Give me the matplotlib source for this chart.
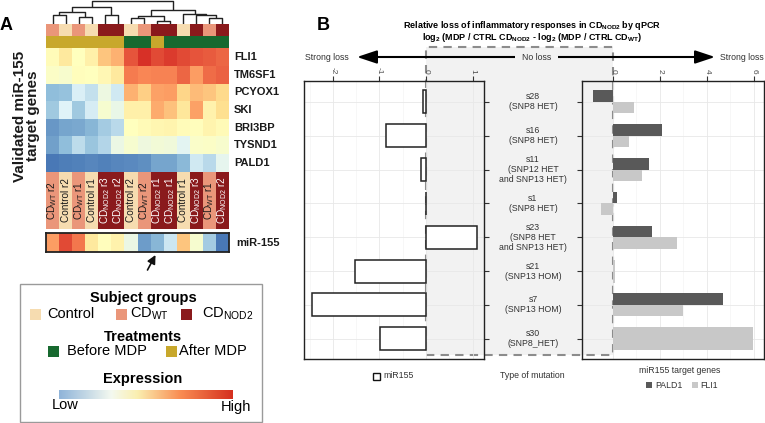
import matplotlib
matplotlib.use('Agg')
import matplotlib.pyplot as plt
import numpy as np
from matplotlib.colors import LinearSegmentedColormap, ListedColormap
from matplotlib.patches import Rectangle, FancyArrowPatch
from matplotlib.transforms import blended_transform_factory

plt.rcParams['font.family'] = ['Liberation Sans', 'DejaVu Sans']
plt.rcParams['mathtext.fontset'] = 'custom'
plt.rcParams['mathtext.rm'] = 'Liberation Sans'
plt.rcParams['mathtext.bf'] = 'Liberation Sans:bold'
plt.rcParams['mathtext.it'] = 'Liberation Sans:italic'
plt.rcParams['mathtext.sf'] = 'Liberation Sans'

# ---------------- Panel A data ----------------
genes = ['FLI1', 'TM6SF1', 'PCYOX1', 'SKI', 'BRI3BP', 'TYSND1', 'PALD1']
col_labels = [r'CD$_{\mathrm{WT}}$ r2', 'Control r2', r'CD$_{\mathrm{WT}}$ r1', 'Control r1',
              r'CD$_{\mathrm{NOD2}}$ r3', r'CD$_{\mathrm{NOD2}}$ r2', 'Control r2', r'CD$_{\mathrm{WT}}$ r2',
              r'CD$_{\mathrm{NOD2}}$ r1', r'CD$_{\mathrm{NOD2}}$ r1', 'Control r1', r'CD$_{\mathrm{NOD2}}$ r3',
              r'CD$_{\mathrm{WT}}$ r1', r'CD$_{\mathrm{NOD2}}$ r2']
groups = ['WT', 'Control', 'WT', 'Control', 'NOD2', 'NOD2', 'Control', 'WT',
          'NOD2', 'NOD2', 'Control', 'NOD2', 'WT', 'NOD2']
treatments = ['After', 'After', 'After', 'After', 'After', 'After', 'Before', 'Before',
              'After', 'Before', 'Before', 'Before', 'Before', 'Before']
expr_FLI1 = [0.52, 0.62, 0.50, 0.58, 0.72, 0.76, 0.93, 1.00, 0.95, 0.98, 0.95, 0.93, 0.92, 0.90]
expr_TM6SF1 = [0.48, 0.46, 0.51, 0.50, 0.54, 0.62, 0.86, 0.84, 0.85, 0.85, 0.90, 0.80, 0.89, 0.91]
expr_PCYOX1 = [0.17, 0.18, 0.32, 0.27, 0.40, 0.30, 0.76, 0.70, 0.79, 0.80, 0.69, 0.74, 0.72, 0.68]
expr_SKI = [0.20, 0.33, 0.20, 0.31, 0.45, 0.38, 0.58, 0.58, 0.77, 0.73, 0.63, 0.79, 0.57, 0.67]
expr_BRI3BP = [0.08, 0.11, 0.12, 0.15, 0.21, 0.25, 0.50, 0.53, 0.55, 0.56, 0.52, 0.51, 0.56, 0.53]
expr_TYSND1 = [0.10, 0.17, 0.26, 0.19, 0.24, 0.39, 0.45, 0.41, 0.43, 0.42, 0.35, 0.47, 0.48, 0.46]
expr_PALD1 = [0.01, 0.02, 0.03, 0.04, 0.03, 0.04, 0.05, 0.06, 0.11, 0.11, 0.16, 0.30, 0.25, 0.36]
mir155_expr = [0.80, 0.95, 0.87, 0.62, 0.51, 0.57, 0.39, 0.09, 0.15, 0.29, 0.72, 0.45, 0.21, 0.01]
# dendrogram merges: (cluster a, cluster b, height); new cluster ids start at 14
merges = [(0, 1, 9.0), (2, 3, 7.3), (14, 15, 12.3), (4, 5, 9.0), (16, 17, 16.7),
          (6, 7, 5.7), (8, 9, 3.3), (19, 20, 8.0), (12, 13, 5.7), (11, 22, 9.0),
          (10, 23, 9.7), (21, 24, 14.0), (18, 25, 23.0)]

# ---------------- Panel B data ----------------
samples = ['s28', 's16', 's11', 's1', 's23', 's21', 's7', 's30']
mutations = ['(SNP8 HET)', '(SNP8 HET)', '(SNP12 HET\nand SNP13 HET)', '(SNP8 HET)',
             '(SNP8 HET\nand SNP13 HET)', '(SNP13 HOM)', '(SNP13 HOM)', '(SNP8_HET)']
mir155_loss = [-0.07, -0.85, -0.10, 0.0, 1.09, -1.52, -2.45, -0.98]
pald1_loss = [-0.86, 2.09, 1.55, 0.15, 1.67, np.nan, 4.67, np.nan]
fli1_loss = [0.89, 0.67, 1.25, -0.51, 2.74, 0.10, 2.99, 5.97]

# ---------------- colors ----------------
grp_colors = {'Control': '#f6dcb0', 'WT': '#ea967a', 'NOD2': '#8a1a1c'}
trt_colors = {'Before': '#17692f', 'After': '#c8a82c'}
heat_cmap = LinearSegmentedColormap.from_list('heat', [
    (0.0, '#4575b4'), (0.17, '#91bfdb'), (0.33, '#e0f3f8'), (0.5, '#ffffbf'),
    (0.67, '#fee090'), (0.83, '#fc8d59'), (1.0, '#d73027')])
leg_cmap = LinearSegmentedColormap.from_list('leg', [
    (0.0, '#8fb4d9'), (0.3, '#f4f9f0'), (0.45, '#fbefb0'), (0.7, '#f98c52'), (1.0, '#d5301f')])
pald_color = '#595959'
fli_color = '#c8c8c8'
shade = '#f2f2f2'

W, H = 765, 423
fig = plt.figure(figsize=(W / 100, H / 100), dpi=100)


def rect(x0, y0, x1, y1):
    return [x0 / W, 1 - y1 / H, (x1 - x0) / W, (y1 - y0) / H]


def fx(x):
    return x / W


def fy(y):
    return 1 - y / H


ncol = len(col_labels)

# ---- dendrogram ----
axd = fig.add_axes(rect(46, 0, 229, 24))
axd.set_xlim(0, ncol)
axd.set_ylim(0, 24)
axd.axis('off')
pos = {i: i + 0.5 for i in range(ncol)}
hgt = {i: 0.0 for i in range(ncol)}
for k, (a, b, h) in enumerate(merges):
    nid = ncol + k
    axd.plot([pos[a], pos[a], pos[b], pos[b]], [hgt[a], h, h, hgt[b]],
             color='#222222', lw=1.0, clip_on=False, solid_capstyle='butt')
    pos[nid] = (pos[a] + pos[b]) / 2
    hgt[nid] = h

# ---- annotation rows ----
axa = fig.add_axes(rect(46, 24, 229, 48.3))
ann_cats = ['Control', 'WT', 'NOD2', 'Before', 'After']
ann_cmap = ListedColormap([grp_colors['Control'], grp_colors['WT'], grp_colors['NOD2'],
                           trt_colors['Before'], trt_colors['After']])
ann = np.array([[ann_cats.index(g) for g in groups], [ann_cats.index(t) for t in treatments]])
axa.pcolormesh(np.arange(ncol + 1), np.arange(3), ann, cmap=ann_cmap, vmin=-0.5, vmax=4.5)
axa.set_ylim(2, 0)
axa.axis('off')

# ---- heatmap ----
axh = fig.add_axes(rect(46, 48.3, 229, 171.7))
mat = np.array([expr_FLI1, expr_TM6SF1, expr_PCYOX1, expr_SKI, expr_BRI3BP, expr_TYSND1, expr_PALD1])
axh.pcolormesh(np.arange(ncol + 1), np.arange(len(genes) + 1), mat, cmap=heat_cmap, vmin=0, vmax=1)
axh.set_ylim(len(genes), 0)
axh.axis('off')
tr = blended_transform_factory(fig.transFigure, axh.transData)
for i, g in enumerate(genes):
    axh.text(fx(234), i + 0.5, g, transform=tr, ha='left', va='center',
             fontsize=8, fontweight='bold', color='#1a1a1a')

# ---- column labels ----
axl = fig.add_axes(rect(46, 172, 229, 229))
axl.set_xlim(0, ncol)
axl.set_ylim(0, 1)
axl.axis('off')
for i, (lab, g) in enumerate(zip(col_labels, groups)):
    axl.add_patch(Rectangle((i, 0), 1, 1, facecolor=grp_colors[g], edgecolor='none'))
    axl.text(i + 0.5, 0.5, lab, rotation=90, ha='center', va='center', fontsize=7.2,
             color='white' if g == 'NOD2' else '#1a1a1a')

# ---- miR-155 row ----
axm = fig.add_axes(rect(46, 233.5, 229, 252))
axm.pcolormesh(np.arange(ncol + 1), [0, 1], np.array([mir155_expr]), cmap=heat_cmap, vmin=0, vmax=1)
axm.set_xticks([])
axm.set_yticks([])
for s in axm.spines.values():
    s.set_linewidth(1.3)
    s.set_color('#222222')
fig.text(fx(236), fy(243), 'miR-155', ha='left', va='center', fontsize=8, fontweight='bold', color='#1a1a1a')

fig.add_artist(FancyArrowPatch((fx(147.5), fy(270)), (fx(155.5), fy(255)), transform=fig.transFigure,
                               arrowstyle='-|>,head_length=0.5,head_width=0.25', mutation_scale=10,
                               lw=1.2, color='#111111', shrinkA=0, shrinkB=0))

fig.text(fx(6.5), fy(25), 'A', fontsize=13, fontweight='bold', ha='center', va='center')
fig.text(fx(26.5), fy(116), 'Validated miR-155\ntarget genes', rotation=90, ha='center', va='center',
         fontsize=11, fontweight='bold', linespacing=0.95, color='#1a1a1a')

# ---- legend box A ----
fig.patches.append(Rectangle((fx(20), fy(422)), 242 / W, 138 / H, transform=fig.transFigure,
                             facecolor='none', edgecolor='#9a9a9a', lw=1.0))
fig.text(fx(143), fy(298), 'Subject groups', ha='center', va='center', fontsize=10.5, fontweight='bold')
for (gx, tx, key, lab) in [(30, 47, 'Control', 'Control'), (116, 130, 'WT', r'CD$_{\mathrm{WT}}$'),
                           (181, 202, 'NOD2', r'CD$_{\mathrm{NOD2}}$')]:
    fig.patches.append(Rectangle((fx(gx), fy(319.5)), 11 / W, 11 / H, transform=fig.transFigure,
                                 facecolor=grp_colors[key], edgecolor='none'))
    fig.text(fx(tx), fy(314), lab, ha='left', va='center', fontsize=10.5)
fig.text(fx(143), fy(337), 'Treatments', ha='center', va='center', fontsize=10.5, fontweight='bold')
for (gx, tx, key, lab) in [(48, 67, 'Before', 'Before MDP'), (166, 179, 'After', 'After MDP')]:
    fig.patches.append(Rectangle((fx(gx), fy(356.5)), 11 / W, 11 / H, transform=fig.transFigure,
                                 facecolor=trt_colors[key], edgecolor='none'))
    fig.text(fx(tx), fy(351), lab, ha='left', va='center', fontsize=10.5)
fig.text(fx(143), fy(379), 'Expression', ha='center', va='center', fontsize=10.5, fontweight='bold')
axc = fig.add_axes(rect(59, 390, 232, 399))
axc.imshow(np.linspace(0, 1, 256)[None, :], aspect='auto', cmap=leg_cmap)
axc.axis('off')
fig.text(fx(65), fy(405), 'Low', ha='center', va='center', fontsize=10.5)
fig.text(fx(236), fy(407), 'High', ha='center', va='center', fontsize=10.5)

# ---------------- Panel B ----------------
y = np.arange(len(samples))
# shaded "no loss" region
fig.patches.append(Rectangle((fx(426), fy(355)), (613 - 426) / W, (355 - 47) / H, transform=fig.transFigure,
                             facecolor=shade, edgecolor='#8c8c8c', lw=1.5, ls=(0, (4, 3)), zorder=-1))


def style_axis(ax, xlim, major, minor, side):
    ax.set_facecolor('none')
    ax.set_xlim(*xlim)
    ax.set_ylim(7.6, -0.62)
    ax.xaxis.tick_top()
    ax.set_xticks(major)
    ax.set_xticks(minor, minor=True)
    ax.set_xticklabels([str(v) for v in major], rotation=-90, fontsize=6, color='#4d4d4d')
    ax.tick_params(axis='x', which='major', length=3.5, width=0.8, color='#333333', pad=1.5)
    ax.tick_params(axis='x', which='minor', length=0)
    ax.set_yticks(y)
    ax.set_yticklabels([])
    if side == 'right':
        ax.yaxis.tick_right()
    ax.tick_params(axis='y', length=3.5, width=0.8, color='#333333')
    ax.grid(True, which='major', color='#e8e8e8', lw=0.6, zorder=0)
    ax.grid(True, which='minor', axis='x', color='#f2f2f2', lw=0.4, zorder=0)
    ax.set_axisbelow(True)
    for s in ax.spines.values():
        s.set_linewidth(1.0)
        s.set_color('#222222')


axL = fig.add_axes(rect(304, 81, 484, 359))
axL.barh(y, mir155_loss, height=0.68, color='white', edgecolor='#222222', lw=1.1, zorder=3)
style_axis(axL, (-2.62, 1.247), [-2, -1, 0, 1], [-2.5, -1.5, -0.5, 0.5], 'right')

axR = fig.add_axes(rect(582, 81, 764, 359))
bw = 0.34
for i in range(len(samples)):
    if np.isnan(pald1_loss[i]):
        axR.barh(y[i], fli1_loss[i], height=2 * bw, color=fli_color, zorder=3)
    else:
        axR.barh(y[i] - bw / 2, pald1_loss[i], height=bw, color=pald_color, zorder=3)
        axR.barh(y[i] + bw / 2, fli1_loss[i], height=bw, color=fli_color, zorder=3)
style_axis(axR, (-1.32, 6.43), [0, 2, 4, 6], [1, 3, 5], 'left')

trm = blended_transform_factory(fig.transFigure, axL.transData)
for i, (s, m) in enumerate(zip(samples, mutations)):
    axL.text(fx(533), i, s + '\n' + m, transform=trm, ha='center', va='center', fontsize=6.3,
             color='#333333', linespacing=1.15, clip_on=False)

# titles and arrow
fig.text(fx(317), fy(25), 'B', fontsize=13, fontweight='bold', ha='left', va='center')
fig.text(fx(532), fy(25), r'Relative loss of inflammatory responses in CD$_{\mathbf{NOD2}}$ by qPCR',
         ha='center', va='center', fontsize=6.5, fontweight='bold')
fig.text(fx(532), fy(37.5),
         r'log$_{\mathbf{2}}$ (MDP / CTRL CD$_{\mathbf{NOD2}}$ - log$_{\mathbf{2}}$ (MDP / CTRL CD$_{\mathbf{WT}}$)',
         ha='center', va='center', fontsize=6.5, fontweight='bold')
fig.add_artist(FancyArrowPatch((fx(357), fy(57)), (fx(715), fy(57)), transform=fig.transFigure,
                               arrowstyle='<|-|>,head_length=0.6,head_width=0.2', mutation_scale=20,
                               lw=1.5, color='black', shrinkA=0, shrinkB=0))
fig.patches.append(Rectangle((fx(515), fy(61)), 43 / W, 8 / H, transform=fig.transFigure,
                             facecolor=shade, edgecolor='none', zorder=2))
fig.text(fx(537), fy(57), 'No loss', ha='center', va='center', fontsize=6.3, color='#333333', zorder=3)
fig.text(fx(305), fy(57), 'Strong loss', ha='left', va='center', fontsize=6.3, color='#333333')
fig.text(fx(720), fy(57), 'Strong loss', ha='left', va='center', fontsize=6.3, color='#333333')

# bottom legends
fig.patches.append(Rectangle((fx(373), fy(379.5)), 7 / W, 7 / H, transform=fig.transFigure,
                             facecolor='white', edgecolor='#111111', lw=1.0))
fig.text(fx(383), fy(376), 'miR155', ha='left', va='center', fontsize=6.3, color='#333333')
fig.text(fx(532), fy(376), 'Type of mutation', ha='center', va='center', fontsize=6.3, color='#333333')
fig.text(fx(680), fy(370), 'miR155 target genes', ha='center', va='center', fontsize=6.3, color='#333333')
fig.patches.append(Rectangle((fx(646), fy(388)), 6 / W, 6 / H, transform=fig.transFigure,
                             facecolor=pald_color, edgecolor='none'))
fig.text(fx(655), fy(385), 'PALD1', ha='left', va='center', fontsize=6.3, color='#333333')
fig.patches.append(Rectangle((fx(692), fy(388)), 6 / W, 6 / H, transform=fig.transFigure,
                             facecolor=fli_color, edgecolor='none'))
fig.text(fx(700), fy(385), 'FLI1', ha='left', va='center', fontsize=6.3, color='#333333')

fig.savefig('out.png', dpi=100)
